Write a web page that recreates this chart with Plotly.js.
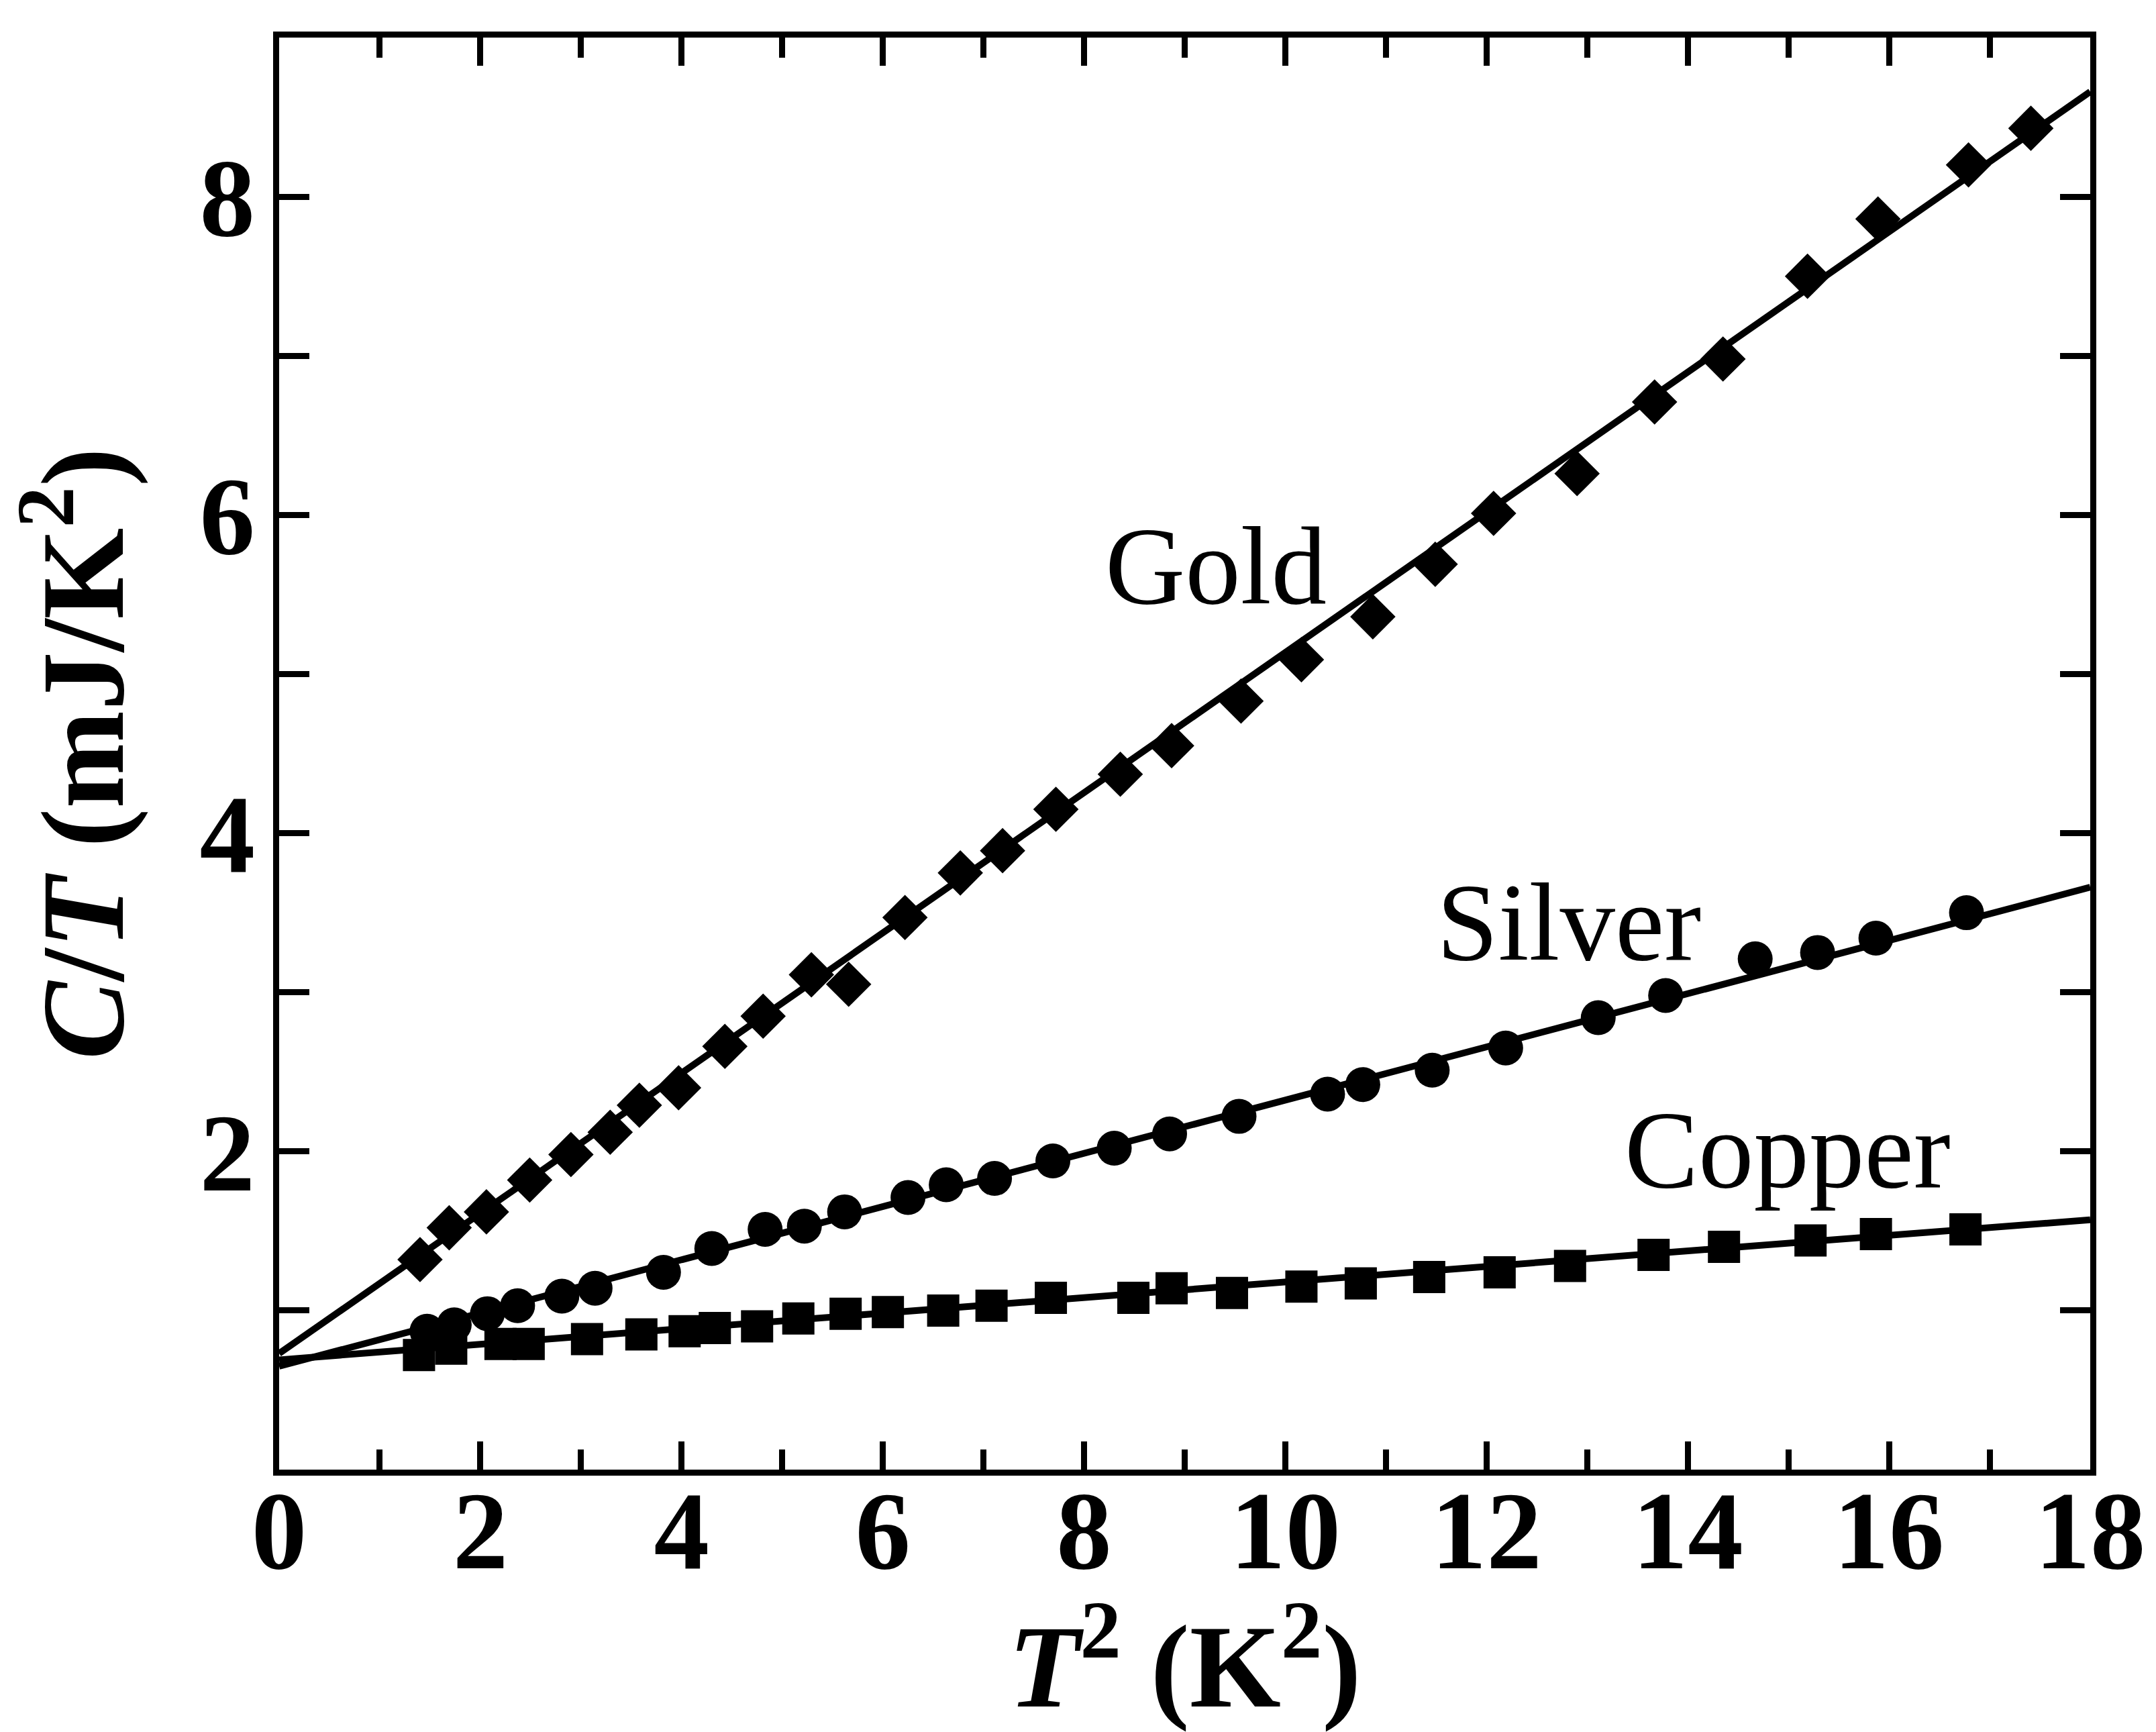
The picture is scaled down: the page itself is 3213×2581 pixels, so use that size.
<!DOCTYPE html>
<html>
<head>
<meta charset="utf-8">
<script src="https://cdn.plot.ly/plotly-3.0.1.min.js"></script>
<style>html,body{margin:0;padding:0;background:#fff;}#chart{width:3213px;height:2581px;}</style>
</head>
<body>
<div id="chart"></div>
<script>
// ---- data ----
const goldX = [1.40, 1.69, 2.06, 2.49, 2.90, 3.29, 3.58, 3.97, 4.43, 4.81, 5.29, 5.66, 6.22, 6.77, 7.19, 7.72, 8.36, 8.87, 9.56, 10.16, 10.87, 11.49, 12.07, 12.90, 13.67, 14.35, 15.19, 15.89, 16.79, 17.41];
const goldY = [1.32, 1.52, 1.62, 1.82, 1.98, 2.12, 2.29, 2.40, 2.66, 2.85, 3.11, 3.05, 3.47, 3.75, 3.89, 4.15, 4.37, 4.55, 4.83, 5.09, 5.36, 5.69, 6.01, 6.26, 6.71, 6.98, 7.50, 7.86, 8.20, 8.43];

const silverX = [1.47, 1.74, 2.07, 2.37, 2.81, 3.14, 3.82, 4.30, 4.83, 5.22, 5.62, 6.25, 6.63, 7.11, 7.69, 8.30, 8.85, 9.54, 10.42, 10.77, 11.46, 12.19, 13.11, 13.78, 14.67, 15.29, 15.87, 16.77];
const silverY = [0.87, 0.91, 0.98, 1.03, 1.09, 1.14, 1.24, 1.39, 1.51, 1.53, 1.62, 1.71, 1.79, 1.83, 1.94, 2.02, 2.11, 2.22, 2.36, 2.42, 2.51, 2.65, 2.84, 2.98, 3.21, 3.25, 3.34, 3.50];

const copperX = [1.39, 1.71, 2.20, 2.48, 3.06, 3.60, 4.03, 4.33, 4.75, 5.16, 5.63, 6.05, 6.60, 7.08, 7.67, 8.49, 8.87, 9.47, 10.16, 10.75, 11.43, 12.13, 12.83, 13.66, 14.36, 15.22, 15.87, 16.76];
const copperY = [0.72, 0.76, 0.79, 0.79, 0.82, 0.85, 0.87, 0.89, 0.90, 0.95, 0.98, 0.99, 1.00, 1.03, 1.08, 1.08, 1.14, 1.11, 1.15, 1.17, 1.21, 1.24, 1.28, 1.35, 1.40, 1.44, 1.48, 1.51];

// fitted straight lines (end points read at T^2 = 0 and 18)
const fitX = [0, 18];
const goldFitY = [0.73, 8.66];
const silverFitY = [0.65, 3.66];
const copperFitY = [0.69, 1.57];

const labelNames = ['Gold', 'Silver', 'Copper'];
const labelX = [9.31, 12.82, 14.99];
const labelY = [5.68, 3.44, 2.01];

const xTickVals = [0, 2, 4, 6, 8, 10, 12, 14, 16, 18];
const yTickVals = [2, 4, 6, 8];
const xMinorVals = [1, 3, 5, 7, 9, 11, 13, 15, 17];
const yMinorVals = [1, 3, 5, 7];

// ---- drawing ----
const serif = 'Liberation Serif, DejaVu Serif, serif';
const lineStyle = {color: 'black', width: 10};

const traces = [
  {x: fitX, y: goldFitY, mode: 'lines', line: lineStyle, hoverinfo: 'skip'},
  {x: fitX, y: silverFitY, mode: 'lines', line: lineStyle, hoverinfo: 'skip'},
  {x: fitX, y: copperFitY, mode: 'lines', line: lineStyle, hoverinfo: 'skip'},
  {x: goldX, y: goldY, mode: 'markers', marker: {symbol: 'diamond', size: 52, color: 'black'}},
  {x: silverX, y: silverY, mode: 'markers', marker: {symbol: 'circle', size: 52, color: 'black'}},
  {x: copperX, y: copperY, mode: 'markers', marker: {symbol: 'square', size: 48, color: 'black'}}
];

const annotations = labelNames.map((t, i) => ({
  x: labelX[i], y: labelY[i], xref: 'x', yref: 'y', text: t, showarrow: false,
  xanchor: 'center', yanchor: 'middle',
  font: {family: serif, size: 165, color: 'black'}
}));

const layout = {
  width: 3213, height: 2581,
  margin: {l: 416, r: 98, t: 56, b: 391},
  paper_bgcolor: 'white', plot_bgcolor: 'white',
  showlegend: false,
  font: {family: serif, color: 'black'},
  xaxis: {
    range: [0, 18], showgrid: false, zeroline: false,
    showline: true, linecolor: 'black', linewidth: 9, mirror: 'ticks',
    ticks: 'inside', ticklen: 42, tickwidth: 9, tickcolor: 'black',
    tickmode: 'array', tickvals: xTickVals,
    tickfont: {family: serif, size: 165, weight: 'bold', color: 'black'},
    ticklabelstandoff: -60,
    minor: {tickmode: 'array', tickvals: xMinorVals, ticks: 'inside', ticklen: 30, tickwidth: 9, tickcolor: 'black', showgrid: false},
    title: {text: '<i>T</i><sup>2</sup> (K<sup>2</sup>)', font: {family: serif, size: 175, weight: 'bold', color: 'black'}, standoff: 220}
  },
  yaxis: {
    range: [0, 9], showgrid: false, zeroline: false,
    showline: true, linecolor: 'black', linewidth: 9, mirror: 'ticks',
    ticks: 'inside', ticklen: 45, tickwidth: 9, tickcolor: 'black',
    tickmode: 'array', tickvals: yTickVals,
    tickfont: {family: serif, size: 165, weight: 'bold', color: 'black'},
    ticklabelstandoff: -6,
    minor: {tickmode: 'array', tickvals: yMinorVals, ticks: 'inside', ticklen: 45, tickwidth: 9, tickcolor: 'black', showgrid: false},
    title: {text: '<i>C</i>/<i>T</i> (mJ/K<sup>2</sup>)', font: {family: serif, size: 175, weight: 'bold', color: 'black'}, standoff: 106}
  },
  annotations: annotations
};

Plotly.newPlot('chart', traces, layout, {staticPlot: true, displayModeBar: false});
</script>
</body>
</html>
